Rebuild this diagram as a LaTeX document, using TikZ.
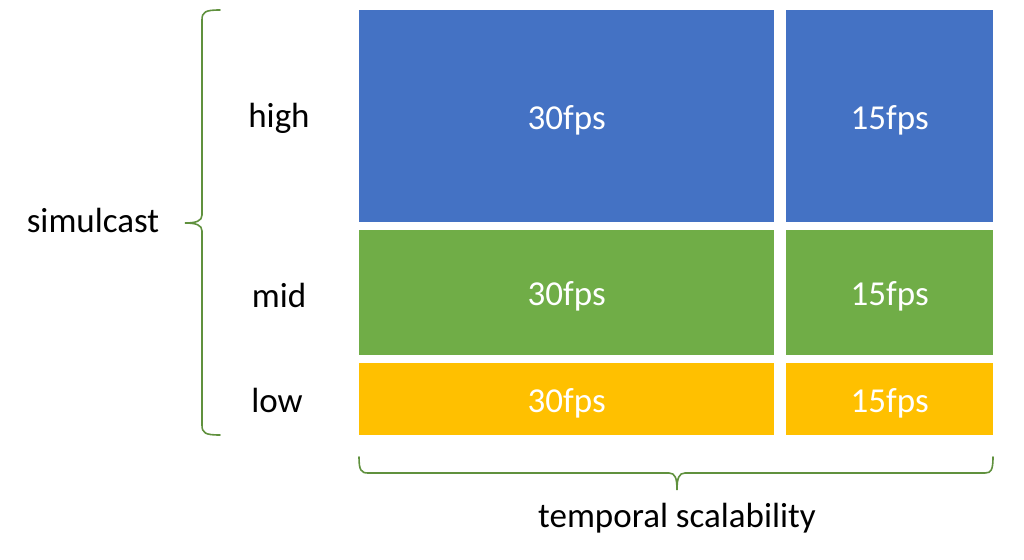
\documentclass[tikz,border=0pt]{standalone}
\usepackage{fontspec}
\setmainfont{Carlito}
\usepackage{tikz}

\definecolor{hiblue}{HTML}{4472C4}
\definecolor{midgreen}{HTML}{70AD47}
\definecolor{lowgold}{HTML}{FFC000}
\definecolor{bracegreen}{RGB}{96,145,62}

\begin{document}
\begin{tikzpicture}[
  x=1pt, y=-1pt,
  font=\fontsize{35}{42}\selectfont,
  layer/.style={anchor=north west, inner sep=0pt, text=white},
  lbl/.style={anchor=center, inner sep=0pt, text depth=0pt},
  brc/.style={draw=bracegreen, line width=1.6pt, line cap=round}
]
\useasboundingbox (0,0) rectangle (1024,559);

% Layers
\node[layer, fill=hiblue, minimum width=415, minimum height=212] (hi30) at (359,10) {};
\node[layer, fill=hiblue, minimum width=207, minimum height=212] (hi15) at (786,10) {};
\node[layer, fill=midgreen, minimum width=415, minimum height=125] (mid30) at (359,230) {};
\node[layer, fill=midgreen, minimum width=207, minimum height=125] (mid15) at (786,230) {};
\node[layer, fill=lowgold, minimum width=415, minimum height=72] (low30) at (359,363) {};
\node[layer, fill=lowgold, minimum width=207, minimum height=72] (low15) at (786,363) {};

\foreach \n/\t in {hi30/30fps, hi15/15fps, mid30/30fps, mid15/15fps, low30/30fps, low15/15fps}
  \node[lbl, text=white] at ([yshift=-1]\n.center) {\t};

% Row labels
\node[lbl] (high) at (279,115) {high};
\node[lbl] (mid)  at (279,295) {mid};
\node[lbl] (low)  at (277,400) {low};

% Braces
\coordinate (lb1) at (220,10);
\coordinate (lb2) at (220,435);
\coordinate (ltip) at (185,223);
\draw[brc] (lb1) .. controls (205,10) and (202,12) .. (202,20) -- (202,215)
  .. controls (202,221) and (196,223) .. (ltip)
  .. controls (196,223) and (202,225) .. (202,231) -- (202,425)
  .. controls (202,433) and (205,435) .. (lb2);
\node[lbl] (sim) at (93,220) {simulcast};

\coordinate (bb1) at (359,457);
\coordinate (bb2) at (993,457);
\coordinate (btip) at (677,490);
\draw[brc] (bb1) .. controls (359,470) and (361,473) .. (368,473) -- (669,473)
  .. controls (675,473) and (677,478) .. (btip)
  .. controls (677,478) and (679,473) .. (685,473) -- (985,473)
  .. controls (991,473) and (993,470) .. (bb2);
\node[lbl] (temp) at (677,515) {temporal scalability};

\end{tikzpicture}
\end{document}
